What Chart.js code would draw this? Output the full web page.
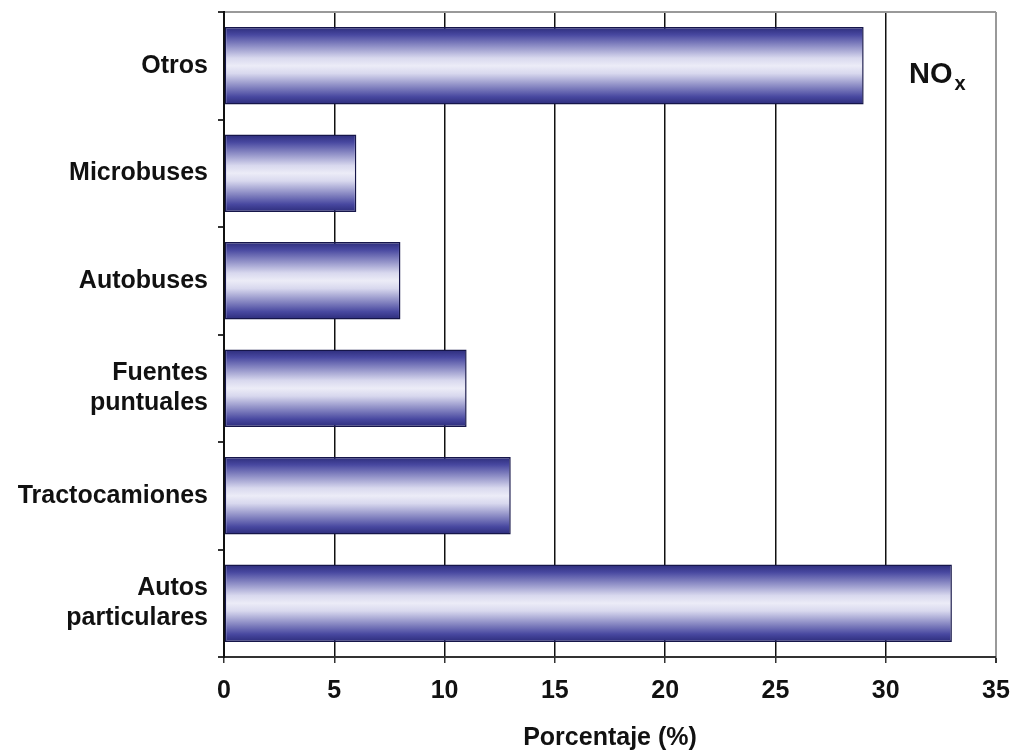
<!DOCTYPE html>
<html>
<head>
<meta charset="utf-8">
<script src="https://cdn.jsdelivr.net/npm/chart.js@4.4.1/dist/chart.umd.min.js"></script>
<style>
  html, body { margin: 0; padding: 0; background: #fff; }
  #wrap { width: 1018px; height: 753px; position: relative; }
</style>
</head>
<body>
<div id="wrap"><canvas id="chart"></canvas></div>
<script>
const categories = ["Otros", "Microbuses", "Autobuses", ["Fuentes", "puntuales"], "Tractocamiones", ["Autos", "particulares"]];
const percentages = [29, 6, 8, 11, 13, 33];
const xTicks = [0, 5, 10, 15, 20, 25, 30, 35];
const pollutant = "NO";
const pollutantSub = "x";

const BAR_PCT = 0.72;
const FONT = "'Liberation Sans', Arial, sans-serif";

function barGradient(ctx) {
  const chart = ctx.chart;
  const ys = chart.scales.y;
  if (!ys || ctx.dataIndex === undefined) return "#3a3a8c";
  const center = ys.getPixelForValue(ctx.dataIndex);
  const h = (ys.bottom - ys.top) / categories.length * BAR_PCT;
  if (!isFinite(center) || !isFinite(h) || h <= 0) return "#3a3a8c";
  const g = chart.ctx.createLinearGradient(0, center - h / 2, 0, center + h / 2);
  g.addColorStop(0, "#2c2c7a");
  g.addColorStop(0.1, "#4848a0");
  g.addColorStop(0.4, "#d8d8ee");
  g.addColorStop(0.5, "#ececf7");
  g.addColorStop(0.6, "#d8d8ee");
  g.addColorStop(0.9, "#4848a0");
  g.addColorStop(1, "#2c2c7a");
  return g;
}

const noxLabel = {
  id: "noxLabel",
  afterDraw(chart) {
    const c = chart.ctx;
    c.save();
    c.fillStyle = "#111";
    c.textBaseline = "alphabetic";
    c.font = "bold 29px " + FONT;
    c.fillText(pollutant, 909, 83);
    const w = c.measureText(pollutant).width;
    c.font = "bold 20px " + FONT;
    c.fillText(pollutantSub, 909 + w + 2, 90);
    c.restore();
  }
};

new Chart(document.getElementById("chart"), {
  type: "bar",
  data: {
    labels: categories,
    datasets: [{
      data: percentages,
      backgroundColor: barGradient,
      borderColor: "#16164a",
      borderWidth: 1.5,
      borderSkipped: false,
      barPercentage: BAR_PCT,
      categoryPercentage: 1
    }]
  },
  options: {
    indexAxis: "y",
    responsive: true,
    maintainAspectRatio: false,
    animation: false,
    layout: { padding: { top: 12, right: 22, left: 0, bottom: 0 } },
    plugins: { legend: { display: false }, tooltip: { enabled: false } },
    scales: {
      x: {
        min: 0,
        max: 35,
        afterBuildTicks: (axis) => { axis.ticks = xTicks.map((v) => ({ value: v })); },
        afterFit: (axis) => {
          axis.height = 96;
          axis.paddingLeft = 0;
          axis.paddingRight = 0;
        },
        border: { color: "#333", width: 2 },
        grid: {
          color: (ctx) => (ctx.index === xTicks.length - 1 ? "#999" : "#111"),
          lineWidth: (ctx) => (ctx.index === xTicks.length - 1 ? 2 : 1.5),
          tickColor: "#333",
          tickLength: 6
        },
        ticks: { color: "#111", font: { family: FONT, size: 25, weight: "bold" }, padding: 13 },
        title: {
          display: true,
          text: "Porcentaje (%)",
          color: "#111",
          font: { family: FONT, size: 25, weight: "bold" },
          padding: { top: 9, bottom: 0 }
        }
      },
      y: {
        afterFit: (axis) => {
          axis.width = 224;
          axis.paddingTop = 0;
          axis.paddingBottom = 0;
        },
        border: { color: "#111", width: 2 },
        grid: {
          offset: true,
          color: (ctx) => (ctx.index === 0 ? "#999" : "transparent"),
          lineWidth: 2,
          tickColor: "#333",
          tickLength: 6
        },
        ticks: { color: "#111", font: { family: FONT, size: 25, weight: "bold" }, padding: 10 }
      }
    }
  },
  plugins: [noxLabel]
});
</script>
</body>
</html>
